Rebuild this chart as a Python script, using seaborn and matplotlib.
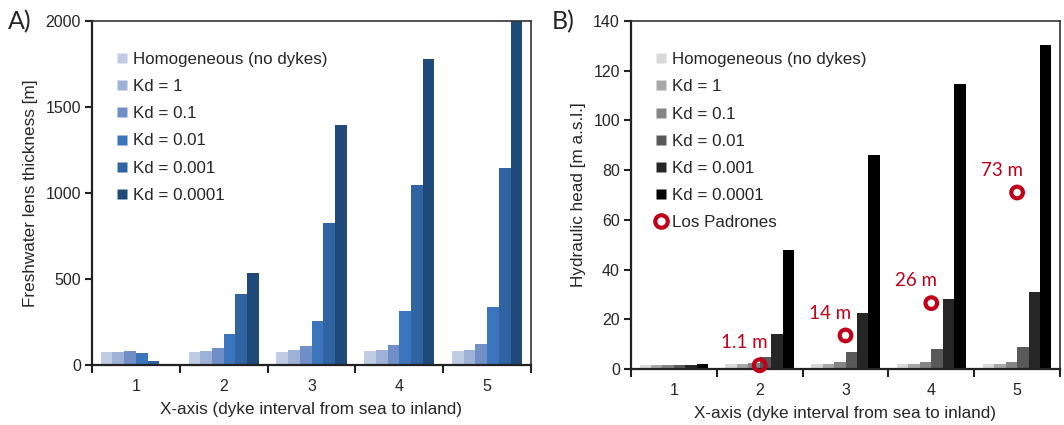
import pandas as pd
import matplotlib.pyplot as plt
from matplotlib.lines import Line2D
import seaborn as sns

# data
intervals = ["1", "2", "3", "4", "5"]
cases = ["Homogeneous (no dykes)", "Kd = 1", "Kd = 0.1", "Kd = 0.01", "Kd = 0.001", "Kd = 0.0001"]

# A) freshwater lens thickness [m], one list per case over intervals 1..5
lens_thickness = {
    "Homogeneous (no dykes)": [75, 75, 78, 80, 80],
    "Kd = 1": [78, 80, 85, 85, 85],
    "Kd = 0.1": [80, 100, 110, 115, 120],
    "Kd = 0.01": [70, 180, 255, 315, 335],
    "Kd = 0.001": [25, 415, 825, 1045, 1145],
    "Kd = 0.0001": [0, 535, 1395, 1780, 2000],
}

# B) hydraulic head [m a.s.l.]
hydraulic_head = {
    "Homogeneous (no dykes)": [1.8, 2.0, 2.0, 2.0, 2.0],
    "Kd = 1": [1.8, 2.0, 2.0, 2.0, 2.0],
    "Kd = 0.1": [1.8, 2.5, 3.0, 3.0, 3.0],
    "Kd = 0.01": [1.8, 5.0, 7.0, 8.0, 9.0],
    "Kd = 0.001": [1.8, 14.0, 22.5, 28.0, 31.0],
    "Kd = 0.0001": [2.0, 48.0, 86.0, 114.5, 130.5],
}

# Los Padrones observations (interval index, plotted value, label)
padrones_x = [1, 2, 3, 4]
padrones_y = [1.5, 13.5, 26.5, 71.0]
padrones_labels = ["1.1 m", "14 m", "26 m", "73 m"]

blues = ["#c0cce2", "#9eb1d7", "#6f8fc6", "#3b76bd", "#2f63a2", "#1f4a79"]
greys = ["#d9d9d9", "#a8a8a8", "#858585", "#595959", "#262626", "#000000"]
red = "#c00018"


def to_long(values):
    rows = []
    for case in cases:
        for interval, v in zip(intervals, values[case]):
            rows.append({"interval": interval, "case": case, "value": v})
    return pd.DataFrame(rows)


sns.set_style("ticks")
plt.rcParams["font.family"] = ["Liberation Sans", "DejaVu Sans"]
plt.rcParams["font.size"] = 11

fig = plt.figure(figsize=(10.64, 4.25), dpi=100)
axA = fig.add_axes([92 / 1064, (425 - 365) / 425, (531 - 92) / 1064, (365 - 21) / 425])
axB = fig.add_axes([631 / 1064, (425 - 369) / 425, (1060 - 631) / 1064, (369 - 21) / 425])


def draw_panel(ax, values, palette, ymax, ystep, ylabel):
    sns.barplot(data=to_long(values), x="interval", y="value", hue="case",
                hue_order=cases, palette=palette, width=0.8, saturation=1,
                linewidth=0, legend=False, ax=ax)
    ax.set_xlim(-0.5, 4.5)
    ax.set_ylim(0, ymax)
    ax.set_yticks(range(0, ymax + 1, ystep))
    # Excel-like category axis: ticks between groups, labels at centres
    ax.set_xticks([i - 0.5 for i in range(len(intervals) + 1)])
    ax.set_xticklabels([])
    ax.set_xticks(range(len(intervals)), minor=True)
    ax.set_xticklabels(intervals, minor=True)
    ax.tick_params(axis="x", which="minor", length=0, pad=10, labelsize=11.5)
    ax.tick_params(axis="x", which="major", length=6, width=1.5, color="#222222")
    ax.tick_params(axis="y", length=5, width=1.5, color="#222222", labelsize=11.5, pad=3)
    for side in ["left", "bottom"]:
        ax.spines[side].set_linewidth(1.6)
        ax.spines[side].set_color("#222222")
    for side in ["top", "right"]:
        ax.spines[side].set_visible(True)
        ax.spines[side].set_linewidth(1.2)
        ax.spines[side].set_color("#333333")
    ax.set_xlabel("X-axis (dyke interval from sea to inland)", fontsize=12.3, labelpad=6)
    ax.set_ylabel(ylabel, fontsize=12.3, labelpad=5)


draw_panel(axA, lens_thickness, blues, 2000, 500, "Freshwater lens thickness [m]")
draw_panel(axB, hydraulic_head, greys, 140, 20, "Hydraulic head [m a.s.l.]")

# Los Padrones markers and labels
axB.scatter(padrones_x, padrones_y, s=70, facecolors="none", edgecolors=red,
            linewidths=3, zorder=5, clip_on=False)
for x, y, lab in zip(padrones_x, padrones_y, padrones_labels):
    axB.annotate(lab, (x, y), xytext=(-11, 10), textcoords="offset points",
                 ha="center", va="bottom", color=red, fontsize=13.5, family="Lato")

# legends
def square_handles(colors):
    return [Line2D([], [], marker="s", linestyle="", markersize=7,
                   markerfacecolor=c, markeredgecolor="none") for c in colors]


axA.legend(square_handles(blues), cases, loc="upper left",
           bbox_to_anchor=(0.04, 0.93), frameon=False, fontsize=12.2,
           labelspacing=0.72, handlelength=0.7, handletextpad=0.3,
           borderaxespad=0)

hB = square_handles(greys) + [Line2D([], [], marker="o", linestyle="", markersize=9,
                                     markerfacecolor="none", markeredgecolor=red,
                                     markeredgewidth=3)]
axB.legend(hB, cases + ["Los Padrones"], loc="upper left",
           bbox_to_anchor=(0.04, 0.93), frameon=False, fontsize=12.2,
           labelspacing=0.72, handlelength=0.7, handletextpad=0.3,
           borderaxespad=0)

fig.text(8 / 1064, 1 - 22 / 425, "A)", fontsize=18, family="Lato", va="center")
fig.text(552 / 1064, 1 - 22 / 425, "B)", fontsize=18, family="Lato", va="center")

fig.savefig("out.png", dpi=100, facecolor="white")
